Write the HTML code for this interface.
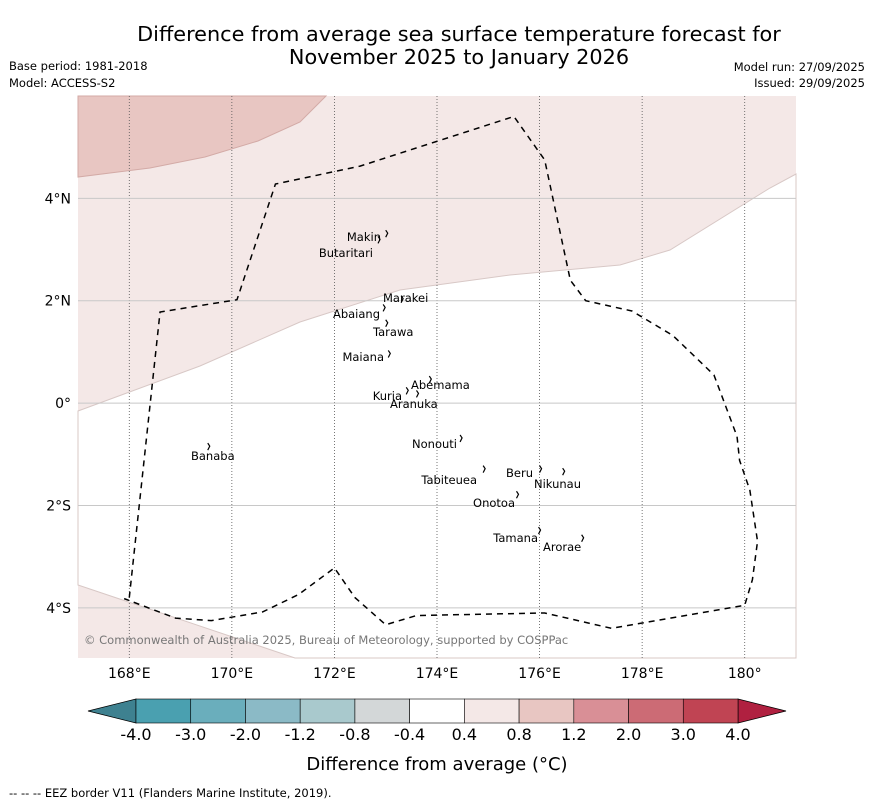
<!DOCTYPE html>
<html><head><meta charset="utf-8"><style>
body{margin:0;background:#fff;font-family:"Liberation Sans","DejaVu Sans",sans-serif;}
svg text{font-family:"DejaVu Sans","Liberation Sans",sans-serif;}
</style></head><body>
<svg width="873" height="804" xmlns="http://www.w3.org/2000/svg">
<text x="459" y="41" font-size="20.8" text-anchor="middle">Difference from average sea surface temperature forecast for</text>
<text x="459" y="64" font-size="20.8" text-anchor="middle">November 2025 to January 2026</text>
<text x="9" y="70" font-size="11.5">Base period: 1981-2018</text>
<text x="9" y="87" font-size="11.5">Model: ACCESS-S2</text>
<text x="865" y="71" font-size="11.5" text-anchor="end">Model run: 27/09/2025</text>
<text x="865" y="87" font-size="11.5" text-anchor="end">Issued: 29/09/2025</text>
<g id="map"></g>
<g id="cbar"></g>
<text x="437" y="770" font-size="18" text-anchor="middle">Difference from average (°C)</text>
<text x="9" y="797" font-size="11.5">--  --  -- EEZ border V11 (Flanders Marine Institute, 2019).</text>
</svg>
<script>
const NS="http://www.w3.org/2000/svg";
const lonTicks=[168,170,172,174,176,178,180];
const lonLabels=["168°E","170°E","172°E","174°E","176°E","178°E","180°"];
const latTicks=[4,2,0,-2,-4];
const latLabels=["4°N","2°N","0°","2°S","4°S"];
const levels=[-4.0,-3.0,-2.0,-1.2,-0.8,-0.4,0.4,0.8,1.2,2.0,3.0,4.0];
const levelLabels=["-4.0","-3.0","-2.0","-1.2","-0.8","-0.4","0.4","0.8","1.2","2.0","3.0","4.0"];
const colors=["#4aa0b0","#6aaebc","#8bbac6","#a9c9cd","#d3d7d8","#ffffff","#f4e8e7","#e8c6c2","#d98f96","#cc6b75","#c04453"];
const eezLon=[168.0,168.6,170.1,170.85,172.5,175.5,176.1,176.6,176.9,177.8,178.6,179.4,179.85,179.9,180.1,180.25,180.15,180.0,177.4,176.1,173.6,173.0,172.4,172.0,171.3,170.6,169.6,168.9,167.9];
const eezLat=[-3.8,1.78,2.02,4.28,4.63,5.6,4.75,2.4,2.0,1.8,1.32,0.55,-0.65,-1.12,-1.7,-2.7,-3.45,-3.95,-4.4,-4.1,-4.15,-4.33,-3.8,-3.22,-3.74,-4.08,-4.25,-4.2,-3.82];
// name, island lon, island lat, label anchor x, label baseline y, anchor
const islands=[["Makin",173.0,3.3,381,241,"end"],["Butaritari",172.85,3.18,373,257,"end"],["Marakei",173.3,2.02,383,302,"start"],["Abaiang",172.95,1.85,380,318,"end"],["Tarawa",173.0,1.55,373,336,"start"],["Maiana",173.05,0.95,384,361,"end"],["Abemama",173.85,0.45,411,389,"start"],["Kuria",173.4,0.23,402,400,"end"],["Aranuka",173.6,0.17,390,408,"start"],["Nonouti",174.45,-0.7,457,448,"end"],["Banaba",169.53,-0.86,191,460,"start"],["Tabiteuea",174.9,-1.3,477,484,"end"],["Beru",176.0,-1.3,533,477,"end"],["Nikunau",176.45,-1.35,534,488,"start"],["Onotoa",175.55,-1.8,515,507,"end"],["Tamana",175.98,-2.5,538,542,"end"],["Arorae",176.82,-2.65,543,551,"start"]];
const X0=78,X1=796,Y0=96,Y1=658;
const x=lon=>X0+(lon-167)*(X1-X0)/14;
const y=lat=>Y0+(6-lat)*(Y1-Y0)/10.98;
function el(tag,attrs,parent){const e=document.createElementNS(NS,tag);for(const k in attrs)e.setAttribute(k,attrs[k]);parent.appendChild(e);return e;}
const map=document.getElementById('map');
el('rect',{x:X0,y:Y0,width:X1-X0,height:Y1-Y0,fill:'#f4e8e7'},map);
const w=el('polygon',{points:"78,411 200,366 300,322 400,290 510,275 620,265 670,250 770,188 796,174 796,658 295,658 78,585",fill:'#ffffff',stroke:'#d8c8c6','stroke-width':1},map);

const d=el('polygon',{points:"78,96 326,96 300,122 258,141 205,157 150,168 78,177",fill:'#e8c6c2',stroke:'#d3aaa6','stroke-width':1},map);

lonTicks.forEach((v,i)=>{const l=el('line',{x1:x(v),x2:x(v),y1:Y0,y2:Y1,stroke:'#555','stroke-width':0.8,'stroke-dasharray':'1,2'},map);

const t=el('text',{x:x(v),y:678,'font-size':14,'text-anchor':'middle'},map);t.textContent=lonLabels[i];
});
latTicks.forEach((v,i)=>{const l=el('line',{x1:X0,x2:X1,y1:y(v),y2:y(v),stroke:'#c8c8c8','stroke-width':1},map);

const t=el('text',{x:71,y:y(v)+5,'font-size':14,'text-anchor':'end'},map);t.textContent=latLabels[i];
});
const eez=el('polyline',{points:eezLon.map((v,i)=>x(v)+","+y(eezLat[i])).join(" "),fill:'none',stroke:'#000','stroke-width':1.5,'stroke-dasharray':'6,5'},map);

islands.forEach(s=>{const px=x(s[1]),py=y(s[2]);
const m=el('path',{d:`M${px} ${py-4} l2 3 l-2 4`,stroke:'#000','stroke-width':1.2,fill:'none'},map);

const t=el('text',{x:s[3],y:s[4],'font-size':11.5,'text-anchor':s[5]},map);t.textContent=s[0];
});
const cp=el('text',{x:84,y:644,'font-size':11.5,fill:'#777'},map);cp.textContent="© Commonwealth of Australia 2025, Bureau of Meteorology, supported by COSPPac";

const cb=document.getElementById('cbar');
const CB0=136,CB1=738,CY=699,CH=24,sw=(CB1-CB0)/colors.length;
const lt=el('polygon',{points:`${CB0},${CY} 88,${CY+CH/2} ${CB0},${CY+CH}`,fill:'#3e8190',stroke:'#000','stroke-width':0.8},cb);

const rt=el('polygon',{points:`${CB1},${CY} 786,${CY+CH/2} ${CB1},${CY+CH}`,fill:'#b02040',stroke:'#000','stroke-width':0.8},cb);

colors.forEach((c,i)=>{const r=el('rect',{x:CB0+i*sw,y:CY,width:sw,height:CH,fill:c,stroke:'#000','stroke-width':0.6},cb);
});
levels.forEach((v,i)=>{const t=el('text',{x:CB0+i*sw,y:740,'font-size':16,'text-anchor':'middle'},cb);t.textContent=levelLabels[i];
});
</script>
</body></html>
